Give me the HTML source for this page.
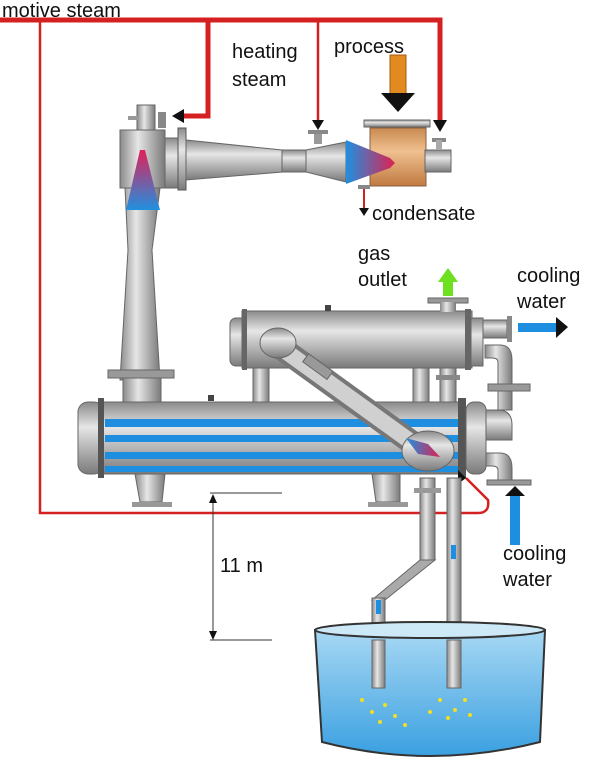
<!DOCTYPE html>
<html><head><meta charset="utf-8"><style>html,body{margin:0;padding:0;background:#fff}svg{display:block}</style></head>
<body>
<svg width="600" height="766" viewBox="0 0 600 766" xmlns="http://www.w3.org/2000/svg" font-family="Liberation Sans, Arial, sans-serif">
<defs>
<linearGradient id="gv" x1="0" y1="0" x2="0" y2="1"><stop offset="0" stop-color="#8a8a8a"/><stop offset="0.35" stop-color="#e6e6e6"/><stop offset="1" stop-color="#7a7a7a"/></linearGradient>
<linearGradient id="gh" x1="0" y1="0" x2="1" y2="0"><stop offset="0" stop-color="#8a8a8a"/><stop offset="0.4" stop-color="#e6e6e6"/><stop offset="1" stop-color="#7a7a7a"/></linearGradient>
<linearGradient id="rb" x1="0" y1="0" x2="0" y2="1"><stop offset="0" stop-color="#e0205a"/><stop offset="1" stop-color="#2090e0"/></linearGradient>
<linearGradient id="br" x1="0" y1="0" x2="1" y2="0"><stop offset="0" stop-color="#1e90e0"/><stop offset="1" stop-color="#e02050"/></linearGradient>
<linearGradient id="or" x1="0" y1="0" x2="0" y2="1"><stop offset="0" stop-color="#c88a50"/><stop offset="0.4" stop-color="#f0c090"/><stop offset="1" stop-color="#c07a40"/></linearGradient>
<linearGradient id="water" x1="0" y1="0" x2="0" y2="1"><stop offset="0" stop-color="#a8d8f4"/><stop offset="1" stop-color="#3aa0e0"/></linearGradient>
</defs>

<g stroke="#d42020" fill="none">
<path d="M0 20 H440 V122" stroke-width="5"/>
<path d="M208 20 V116 H182" stroke-width="5"/>
<path d="M318 20 V122" stroke-width="2.5"/>
<path d="M40 20 V513 H478 Q490 513 488 500 L466 478" stroke-width="2.5"/>
<path d="M364 185 V210" stroke-width="2"/>
</g>
<g fill="#111">
<polygon points="172,116 184,109 184,123"/>
<polygon points="312,120 324,120 318,130"/>
<polygon points="433,120 447,120 440,132"/>
<polygon points="359,208 369,208 364,216"/>
</g>
<rect x="390" y="55" width="16" height="40" fill="#e08a20" stroke="#a85a10"/>
<polygon points="381,93 415,93 398,112" fill="#111"/>

<rect x="137" y="105" width="18" height="25" fill="url(#gh)" stroke="#666"/>
<rect x="128" y="116" width="10" height="4" fill="#999"/>
<rect x="158" y="112" width="8" height="16" fill="#888"/>
<rect x="120" y="130" width="45" height="58" fill="url(#gh)" stroke="#666"/>
<path d="M125 188 L160 188 L152 250 L160 380 L120 380 L128 250 Z" fill="url(#gh)" stroke="#666"/>
<polygon points="140,150 145,150 160,210 126,210" fill="url(#rb)"/>
<rect x="165" y="138" width="14" height="50" fill="url(#gv)" stroke="#666"/>
<rect x="178" y="128" width="8" height="62" fill="url(#gv)" stroke="#555"/>
<polygon points="186,140 282,150 282,172 186,180" fill="url(#gv)" stroke="#666"/>
<rect x="282" y="150" width="24" height="22" fill="url(#gv)" stroke="#666"/>
<polygon points="306,150 346,142 346,182 306,172" fill="url(#gv)" stroke="#666"/>
<rect x="314" y="130" width="8" height="14" fill="#999"/><rect x="308" y="130" width="20" height="4" fill="#888"/>
<rect x="370" y="128" width="56" height="58" fill="url(#or)" stroke="#8a6040"/>
<rect x="364" y="120" width="66" height="7" fill="url(#gv)" stroke="#666"/>
<polygon points="346,140 390,158 395,163 390,168 346,184" fill="url(#br)"/>
<rect x="425" y="150" width="26" height="22" fill="url(#gv)" stroke="#666"/>
<rect x="432" y="138" width="14" height="4" fill="#888"/><rect x="436" y="140" width="6" height="10" fill="#aaa"/>
<rect x="358" y="185" width="12" height="4" fill="#888"/>

<rect x="230" y="318" width="18" height="48" rx="6" fill="url(#gv)" stroke="#666"/>
<rect x="242" y="311" width="230" height="57" fill="url(#gv)" stroke="#666"/>
<rect x="242" y="309" width="5" height="61" fill="#666"/>
<rect x="465" y="309" width="6" height="61" fill="#666"/>
<rect x="471" y="318" width="12" height="48" fill="url(#gv)" stroke="#666"/>
<rect x="483" y="320" width="24" height="18" fill="url(#gv)" stroke="#666"/>
<rect x="507" y="316" width="5" height="26" fill="#888"/>
<rect x="428" y="298" width="40" height="5" fill="#999" stroke="#666"/>
<rect x="440" y="302" width="16" height="10" fill="url(#gh)"/>
<rect x="443" y="280" width="10" height="16" fill="#6de020"/>
<polygon points="438,282 458,282 448,268" fill="#6de020"/>
<rect x="325" y="305" width="6" height="6" fill="#444"/>
<rect x="253" y="368" width="16" height="38" fill="url(#gh)" stroke="#666"/>
<rect x="413" y="368" width="16" height="38" fill="url(#gh)" stroke="#666"/>
<rect x="440" y="368" width="16" height="36" fill="url(#gh)" stroke="#666"/>
<rect x="436" y="375" width="24" height="5" fill="#888"/>
<path d="M485 345 H500 Q512 345 512 360 V410 H498 V362 Q498 358 492 358 H485 Z" fill="url(#gh)" stroke="#666"/>
<rect x="488" y="384" width="42" height="7" fill="#999" stroke="#666"/>
<path d="M485 453 H500 Q512 453 512 468 V482 H498 V470 Q498 466 492 466 H485 Z" fill="url(#gh)" stroke="#666"/>
<rect x="487" y="480" width="44" height="5" fill="#999" stroke="#666"/>
<path d="M485 410 H498 Q512 410 512 425 V440 H485 Z" fill="url(#gv)" stroke="#666"/>
<rect x="518" y="323" width="40" height="9" fill="#1e8ee0"/><polygon points="556,317 556,338 568,327" fill="#111"/>
<rect x="510" y="495" width="10" height="50" fill="#1e8ee0"/><polygon points="505,496 525,496 515,486" fill="#111"/>

<rect x="108" y="370" width="66" height="8" fill="#999" stroke="#666"/>
<rect x="123" y="378" width="38" height="28" fill="url(#gh)" stroke="#666"/>
<rect x="78" y="402" width="26" height="72" rx="10" fill="url(#gv)" stroke="#666"/>
<rect x="100" y="402" width="360" height="72" fill="url(#gv)" stroke="#666"/>
<rect x="98" y="398" width="6" height="80" fill="#555"/>
<rect x="458" y="398" width="8" height="80" fill="#555"/>
<rect x="466" y="402" width="20" height="72" rx="8" fill="url(#gv)" stroke="#666"/>
<g fill="#1e8ee0"><rect x="105" y="419" width="353" height="8"/><rect x="105" y="435" width="353" height="7"/><rect x="105" y="452" width="353" height="7"/><rect x="105" y="466" width="353" height="6"/></g>
<rect x="208" y="395" width="6" height="6" fill="#444"/>
<path d="M135 474 H165 L162 502 H140 Z" fill="url(#gh)" stroke="#666"/><rect x="132" y="502" width="40" height="5" fill="#999"/>
<path d="M372 474 H400 L400 502 H376 Z" fill="url(#gh)" stroke="#666"/><rect x="368" y="502" width="40" height="5" fill="#999"/>
<line x1="277" y1="345" x2="425" y2="452" stroke="#777" stroke-width="24"/>
<line x1="277" y1="345" x2="425" y2="452" stroke="#d0d0d0" stroke-width="16"/>
<ellipse cx="278" cy="343" rx="18" ry="15" fill="url(#gv)" stroke="#666"/>
<rect x="303" y="361" width="30" height="10" fill="#999" stroke="#666" transform="rotate(36 317 366)"/>
<ellipse cx="428" cy="451" rx="26" ry="20" fill="url(#gv)" stroke="#666"/>
<polygon points="406,438 418,454 440,457 428,444" fill="url(#br)"/>
<polygon points="458,470 466,478 458,484" fill="#111"/>

<rect x="420" y="478" width="15" height="82" fill="url(#gh)" stroke="#666"/>
<rect x="414" y="488" width="27" height="5" fill="#999"/>
<path d="M420 560 L435 560 L385 600 L372 600 Z" fill="#aaa" stroke="#666"/>
<rect x="372" y="598" width="13" height="90" fill="url(#gh)" stroke="#666"/>
<rect x="447" y="478" width="14" height="210" fill="url(#gh)" stroke="#666"/>
<rect x="376" y="600" width="5" height="14" fill="#1e8ee0"/>
<rect x="451" y="545" width="5" height="14" fill="#1e8ee0"/>

<path d="M315 630 L322 742 Q430 770 540 742 L545 630 Z" fill="url(#water)" stroke="#333" stroke-width="2"/>
<ellipse cx="430" cy="630" rx="115" ry="8" fill="#cde9f8" stroke="#333" stroke-width="2"/>
<rect x="372" y="640" width="13" height="48" fill="url(#gh)" stroke="#666"/>
<rect x="447" y="640" width="14" height="48" fill="url(#gh)" stroke="#666"/>
<g fill="#f0e020"><circle cx="362" cy="700" r="2"/><circle cx="372" cy="712" r="2"/><circle cx="385" cy="705" r="2"/><circle cx="395" cy="716" r="2"/><circle cx="380" cy="722" r="2"/><circle cx="405" cy="725" r="2"/><circle cx="440" cy="700" r="2"/><circle cx="455" cy="710" r="2"/><circle cx="465" cy="700" r="2"/><circle cx="448" cy="718" r="2"/><circle cx="470" cy="715" r="2"/><circle cx="430" cy="712" r="2"/></g>

<g stroke="#333" stroke-width="1"><line x1="210" y1="493" x2="282" y2="493"/><line x1="210" y1="640" x2="272" y2="640"/><line x1="213" y1="497" x2="213" y2="638"/></g>
<polygon points="209,503 217,503 213,494" fill="#111"/><polygon points="209,631 217,631 213,640" fill="#111"/>

<g font-size="20" fill="#111">
<text x="2" y="17">motive steam</text>
<text x="232" y="58">heating</text><text x="232" y="86">steam</text>
<text x="334" y="53">process</text>
<text x="372" y="220">condensate</text>
<text x="358" y="260">gas</text><text x="358" y="286">outlet</text>
<text x="517" y="282">cooling</text><text x="517" y="308">water</text>
<text x="503" y="560">cooling</text><text x="503" y="586">water</text>
<text x="220" y="572">11 m</text>
</g>
</svg>
</body></html>
